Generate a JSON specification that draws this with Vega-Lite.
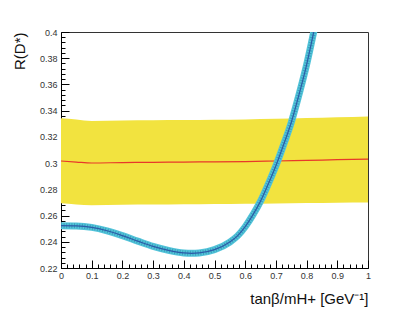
{
  "$schema": "https://vega.github.io/schema/vega-lite/v6.json",
  "width": 307,
  "height": 236,
  "autosize": {"type": "none"},
  "padding": {"left": 61, "top": 32, "right": 41, "bottom": 49},
  "background": "white",
  "config": {
    "view": {"stroke": "#333333", "strokeWidth": 1},
    "axis": {
      "domainColor": "#000000",
      "tickColor": "#000000",
      "labelFont": "Liberation Sans",
      "labelFontSize": 9,
      "labelColor": "#333333",
      "titleFont": "Liberation Sans",
      "titleFontSize": 15,
      "titleFontWeight": "normal",
      "titleColor": "#111111",
      "grid": false
    }
  },
  "datasets": {
    "band": [
      {"t": 0.0, "lo": 0.2693, "mid": 0.3016, "hi": 0.3342},
      {"t": 0.05, "lo": 0.2685, "mid": 0.3008, "hi": 0.3333},
      {"t": 0.1, "lo": 0.2678, "mid": 0.3001, "hi": 0.3322},
      {"t": 0.2, "lo": 0.2682, "mid": 0.3004, "hi": 0.3325},
      {"t": 0.3, "lo": 0.2684, "mid": 0.3006, "hi": 0.3327},
      {"t": 0.4, "lo": 0.2686, "mid": 0.3008, "hi": 0.3328},
      {"t": 0.5, "lo": 0.2688, "mid": 0.301, "hi": 0.333},
      {"t": 0.6, "lo": 0.269, "mid": 0.3012, "hi": 0.3333},
      {"t": 0.7, "lo": 0.2692, "mid": 0.3016, "hi": 0.3338},
      {"t": 0.8, "lo": 0.2695, "mid": 0.3021, "hi": 0.3344},
      {"t": 0.9, "lo": 0.2698, "mid": 0.3026, "hi": 0.335},
      {"t": 1.0, "lo": 0.27, "mid": 0.3031, "hi": 0.3356}
    ],
    "curve": [
      {"t": 0.0, "r": 0.2523},
      {"t": 0.05, "r": 0.2521},
      {"t": 0.1, "r": 0.251},
      {"t": 0.15, "r": 0.2484},
      {"t": 0.2, "r": 0.2447},
      {"t": 0.25, "r": 0.2405},
      {"t": 0.3, "r": 0.2365},
      {"t": 0.35, "r": 0.2335},
      {"t": 0.4, "r": 0.2315},
      {"t": 0.425, "r": 0.2312},
      {"t": 0.45, "r": 0.2315},
      {"t": 0.5, "r": 0.234},
      {"t": 0.55, "r": 0.2398},
      {"t": 0.575, "r": 0.2445},
      {"t": 0.6, "r": 0.2515},
      {"t": 0.625, "r": 0.2605},
      {"t": 0.65, "r": 0.271},
      {"t": 0.675, "r": 0.284},
      {"t": 0.7, "r": 0.298},
      {"t": 0.725, "r": 0.314},
      {"t": 0.75, "r": 0.331},
      {"t": 0.775, "r": 0.352},
      {"t": 0.8, "r": 0.375},
      {"t": 0.825, "r": 0.402},
      {"t": 0.85, "r": 0.43}
    ]
  },
  "resolve": {"axis": {"x": "independent", "y": "independent"}},
  "layer": [
    {
      "data": {"name": "band"},
      "mark": {"type": "area", "color": "#f2e33f", "interpolate": "monotone", "clip": true},
      "encoding": {
        "x": {
          "field": "t", "type": "quantitative",
          "scale": {"domain": [0, 1], "nice": false, "zero": false},
          "axis": {
            "orient": "bottom",
            "title": "tanβ/mH+ [GeV⁻¹]",
            "titleAnchor": "end",
            "titleAlign": "right",
            "titleX": 307,
            "titleY": 35,
            "titleBaseline": "alphabetic",
            "values": [0, 0.1, 0.2, 0.3, 0.4, 0.5, 0.6, 0.7, 0.8, 0.9, 1],
            "format": "~g",
            "tickSize": -8,
            "labelPadding": 11,
            "labelFlush": false,
            "labelOverlap": false
          }
        },
        "y": {
          "field": "lo", "type": "quantitative",
          "scale": {"domain": [0.22, 0.4], "nice": false, "zero": false},
          "axis": {
            "orient": "left",
            "title": "R(D*)",
            "titleAngle": -90,
            "titleAlign": "right",
            "titleBaseline": "bottom",
            "titleX": -34,
            "titleY": 0,
            "values": [0.22, 0.24, 0.26, 0.28, 0.3, 0.32, 0.34, 0.36, 0.38, 0.4],
            "format": "~g",
            "tickSize": -8,
            "labelPadding": 12,
            "labelFlush": false,
            "labelOverlap": false
          }
        },
        "y2": {"field": "hi"}
      }
    },
    {
      "data": {"name": "band"},
      "mark": {"type": "line", "color": "#e8382a", "strokeWidth": 1.2, "interpolate": "monotone", "clip": true},
      "encoding": {
        "x": {
          "field": "t", "type": "quantitative",
          "axis": {
            "orient": "bottom",
            "title": null,
            "labels": false,
            "domain": false,
            "tickSize": -4,
            "values": [0.02,0.04,0.06,0.08,0.12,0.14,0.16,0.18,0.22,0.24,0.26,0.28,0.32,0.34,0.36,0.38,0.42,0.44,0.46,0.48,0.52,0.54,0.56,0.58,0.62,0.64,0.66,0.68,0.72,0.74,0.76,0.78,0.82,0.84,0.86,0.88,0.92,0.94,0.96,0.98]
          }
        },
        "y": {
          "field": "mid", "type": "quantitative",
          "axis": {
            "orient": "left",
            "title": null,
            "labels": false,
            "domain": false,
            "tickSize": -4,
            "values": [0.224,0.228,0.232,0.236,0.244,0.248,0.252,0.256,0.264,0.268,0.272,0.276,0.284,0.288,0.292,0.296,0.304,0.308,0.312,0.316,0.324,0.328,0.332,0.336,0.344,0.348,0.352,0.356,0.364,0.368,0.372,0.376,0.384,0.388,0.392,0.396]
          }
        }
      }
    },
    {
      "data": {"name": "curve"},
      "mark": {"type": "line", "color": "#52c4da", "strokeWidth": 7, "interpolate": "monotone", "clip": true},
      "encoding": {
        "x": {"field": "t", "type": "quantitative", "axis": null},
        "y": {"field": "r", "type": "quantitative", "axis": null}
      }
    },
    {
      "data": {"name": "curve"},
      "mark": {"type": "line", "color": "#2a7f9c", "strokeWidth": 5, "strokeDash": [1, 1.6], "opacity": 0.55, "interpolate": "monotone", "clip": true},
      "encoding": {
        "x": {"field": "t", "type": "quantitative", "axis": null},
        "y": {"field": "r", "type": "quantitative", "axis": null}
      }
    },
    {
      "data": {"name": "curve"},
      "mark": {"type": "line", "color": "#2c5aa8", "strokeWidth": 1.2, "interpolate": "monotone", "clip": true},
      "encoding": {
        "x": {"field": "t", "type": "quantitative", "axis": null},
        "y": {"field": "r", "type": "quantitative", "axis": null}
      }
    }
  ]
}
